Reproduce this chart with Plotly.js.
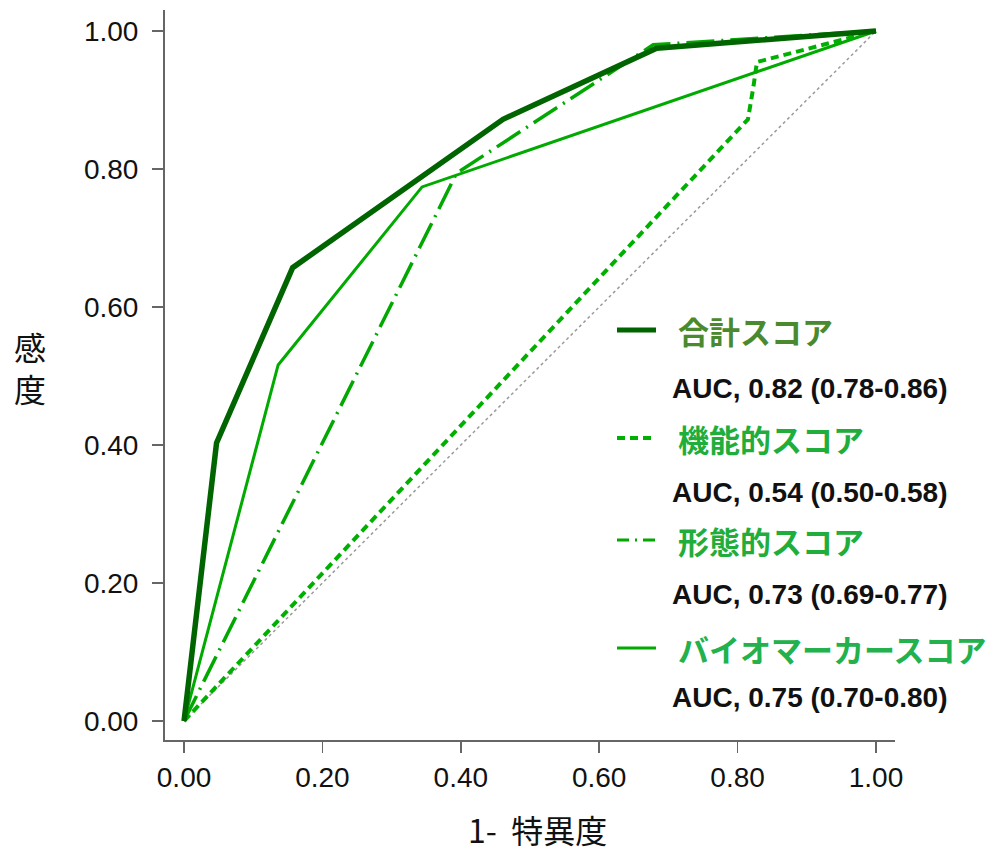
<!DOCTYPE html>
<html>
<head>
<meta charset="utf-8">
<script src="https://cdn.plot.ly/plotly-3.0.1.min.js"></script>
<style>html,body{margin:0;padding:0;background:#fff;}#chart{width:993px;height:854px;}</style>
</head>
<body>
<div id="chart"></div>
<script>
// ROC data
const fprTotal = [0, 0.047, 0.157, 0.461, 0.683, 1];
const tprTotal = [0, 0.403, 0.657, 0.872, 0.975, 1];
const fprFunc = [0, 0.815, 0.823, 0.828, 1];
const tprFunc = [0, 0.872, 0.920, 0.955, 1];
const fprMorph = [0, 0.381, 0.394, 0.678, 1];
const tprMorph = [0, 0.767, 0.794, 0.980, 1];
const fprBio = [0, 0.136, 0.344, 1];
const tprBio = [0, 0.516, 0.774, 1];
const diagX = [0, 1];
const diagY = [0, 1];

const seriesNames = ['合計スコア', '機能的スコア', '形態的スコア', 'バイオマーカースコア'];
const aucLabels = ['AUC, 0.82 (0.78-0.86)', 'AUC, 0.54 (0.50-0.58)', 'AUC, 0.73 (0.69-0.77)', 'AUC, 0.75 (0.70-0.80)'];
const tickVals = [0, 0.2, 0.4, 0.6, 0.8, 1.0];
const tickText = ['0.00', '0.20', '0.40', '0.60', '0.80', '1.00'];

const cTotal = '#006400', cFunc = '#00b000', cMorph = '#00a800', cBio = '#00aa00';
const numFont = 'Liberation Sans, Arial, sans-serif';
const jpFont = 'Noto Sans CJK JP, sans-serif';

const traces = [
  {x: diagX, y: diagY, mode: 'lines', line: {color: '#9a9a9a', width: 1.5, dash: 'dot'}, hoverinfo: 'skip'},
  {x: fprFunc, y: tprFunc, mode: 'lines', line: {color: cFunc, width: 4, dash: '8px,5px'}, name: seriesNames[1]},
  {x: fprBio, y: tprBio, mode: 'lines', line: {color: cBio, width: 3}, name: seriesNames[3]},
  {x: fprMorph, y: tprMorph, mode: 'lines', line: {color: cMorph, width: 3.5, dash: '28px,7px,2px,7px'}, name: seriesNames[2]},
  {x: fprTotal, y: tprTotal, mode: 'lines', line: {color: cTotal, width: 5.5}, name: seriesNames[0]}
];

// pixel helpers for paper coords (plot area: x 165..895, y 10..740)
const L = 165, R = 895, T = 10, B = 740;
const px = v => (v - L) / (R - L);
const py = v => (B - v) / (B - T);

const legendRows = [330, 438, 540, 648];
const aucRows = [388, 492, 594, 697];
const labelColors = ['#4a8a2e', '#1fae3c', '#1fae3c', '#22b14c'];
const sampleStyles = [
  {color: cTotal, width: 5, dash: 'solid'},
  {color: cFunc, width: 4, dash: '8px,5px'},
  {color: cMorph, width: 3, dash: '12px,6px,2px,6px'},
  {color: cBio, width: 3, dash: 'solid'}
];

const shapes = legendRows.map((yy, i) => ({
  type: 'line', xref: 'paper', yref: 'paper',
  x0: px(617), x1: px(656), y0: py(yy), y1: py(yy),
  line: sampleStyles[i]
}));

const annotations = [];
legendRows.forEach((yy, i) => {
  annotations.push({xref: 'paper', yref: 'paper', x: px(676), y: py(yy), xanchor: 'left', yanchor: 'middle',
    text: '<b>' + seriesNames[i] + '</b>', showarrow: false,
    font: {family: jpFont, size: 31, color: labelColors[i]}});
  annotations.push({xref: 'paper', yref: 'paper', x: px(670), y: py(aucRows[i]), xanchor: 'left', yanchor: 'middle',
    text: '<b>' + aucLabels[i] + '</b>', showarrow: false,
    font: {family: numFont, size: 28, color: '#111'}});
});
// y title stacked vertically
annotations.push({xref: 'paper', yref: 'paper', x: px(30), y: py(346), xanchor: 'center', yanchor: 'middle',
  text: '感', showarrow: false, font: {family: jpFont, size: 32, color: '#111'}});
annotations.push({xref: 'paper', yref: 'paper', x: px(30), y: py(388), xanchor: 'center', yanchor: 'middle',
  text: '度', showarrow: false, font: {family: jpFont, size: 32, color: '#111'}});
// x title
annotations.push({xref: 'paper', yref: 'paper', x: px(537), y: py(829), xanchor: 'center', yanchor: 'middle',
  text: '1-  特異度', showarrow: false, font: {family: jpFont, size: 32, color: '#111'}});

const layout = {
  width: 993, height: 854,
  margin: {l: L, r: 993 - R, t: T, b: 854 - B},
  paper_bgcolor: '#fff', plot_bgcolor: '#fff',
  showlegend: false,
  xaxis: {range: [-0.0275, 1.0275], tickvals: tickVals, ticktext: tickText,
    showgrid: false, zeroline: false, showline: true, linecolor: '#666', linewidth: 2,
    ticks: 'outside', ticklen: 11, tickwidth: 1.5, tickcolor: '#666', ticklabelstandoff: 0,
    tickfont: {family: numFont, size: 28, color: '#111'}},
  yaxis: {range: [-0.0275, 1.0304], tickvals: tickVals, ticktext: tickText,
    showgrid: false, zeroline: false, showline: true, linecolor: '#666', linewidth: 2,
    ticks: 'outside', ticklen: 11, tickwidth: 1.5, tickcolor: '#666', ticklabelstandoff: 8,
    tickfont: {family: numFont, size: 28, color: '#111'}},
  shapes: shapes,
  annotations: annotations
};

Plotly.newPlot('chart', traces, layout, {displayModeBar: false, staticPlot: true});
</script>
</body>
</html>
